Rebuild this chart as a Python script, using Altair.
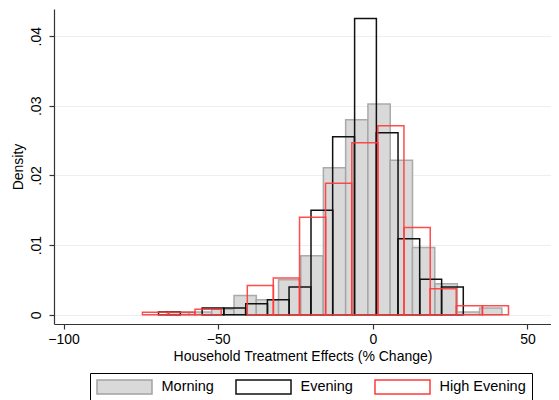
import altair as alt
import pandas as pd

series_names = ["Morning", "Evening", "High Evening"]

# Morning histogram (bin width ~7.22)
morning_left = [-66.6, -59.4, -52.1, -44.9, -37.7, -30.5, -23.3, -16.0, -8.8,
                -1.6, 5.6, 12.8, 20.1, 27.3, 34.5]
morning_width = 7.22
morning_density = [0.0004, 0.0004, 0.0008, 0.00277, 0.00215, 0.00502, 0.00846,
                   0.0211, 0.0280, 0.03025, 0.0222, 0.00965, 0.00444, 0.0004, 0.00096]

# Evening histogram (bin width ~7.04)
evening_left = [-69.3, -55.2, -48.2, -41.1, -34.1, -27.1, -20.0, -13.0, -5.9,
                1.1, 8.1, 15.2, 22.2]
evening_width = 7.04
evening_density = [0.00038, 0.00095, 0.00095, 0.00158, 0.00215, 0.00397, 0.01501,
                   0.02557, 0.04253, 0.02614, 0.0109, 0.00511, 0.00397]

# High Evening histogram (bin width ~8.45)
high_left = [-74.5, -66.0, -57.5, -40.6, -32.2, -23.7, -15.3, -6.8, 1.6, 10.1,
             18.5, 27.0, 35.4]
high_width = 8.45
high_density = [0.00035, 0.00035, 0.0008, 0.0042, 0.00526, 0.014, 0.01888,
                0.02471, 0.02714, 0.01252, 0.00373, 0.00129, 0.00129]

x_ticks = [-100, -50, 0, 50]
y_ticks = [0, 0.01, 0.02, 0.03, 0.04]

rows = []
for name, lefts, w, dens in [
    ("Morning", morning_left, morning_width, morning_density),
    ("Evening", evening_left, evening_width, evening_density),
    ("High Evening", high_left, high_width, high_density),
]:
    for l, d in zip(lefts, dens):
        rows.append({"series": name, "x0": l, "x1": l + w, "density": d})
df = pd.DataFrame(rows)

FONT = "Liberation Sans"

legend = alt.Legend(
    orient="none", legendX=36, legendY=364, direction="horizontal", title=None,
    symbolType="M-3.93,-1H3.93V1H-3.93Z", symbolSize=196, symbolStrokeWidth=1.5,
    symbolOffset=20.5, labelOffset=29, columnPadding=18, padding=6,
    strokeColor="#000", fillColor="white", labelFontSize=14.5, labelFont=FONT,
    labelColor="#000", symbolOpacity=1,
)

fill_scale = alt.Scale(domain=series_names, range=["#d9d9d9", "transparent", "transparent"])
stroke_scale = alt.Scale(domain=series_names, range=["#a3a3a3", "#111111", "#ff3a3a"])

x_enc = alt.X(
    "x0:Q",
    scale=alt.Scale(domain=[-103.1, 57.6], nice=False, zero=False),
    axis=alt.Axis(
        values=x_ticks, format="d", title="Household Treatment Effects (% Change)",
        grid=False, tickSize=5, labelPadding=3, titlePadding=3,
    ),
)
y_enc = alt.Y(
    "density:Q",
    scale=alt.Scale(domain=[-0.00133, 0.0439], nice=False, zero=False),
    axis=alt.Axis(
        values=y_ticks, title="Density", grid=True, tickSize=5,
        labelExpr="datum.value == 0 ? '0' : substring(format(datum.value, '.2f'), 1)",
        labelAngle=270, labelAlign="center", labelBaseline="bottom",
        labelPadding=6, titlePadding=4,
    ),
)

def layer(name, **mark_kw):
    return (
        alt.Chart(df)
        .transform_filter(alt.datum.series == name)
        .mark_bar(strokeWidth=1.5, **mark_kw)
        .encode(
            x=x_enc, x2="x1:Q", y=y_enc, y2=alt.datum(0),
            fill=alt.Fill("series:N", scale=fill_scale, legend=legend),
            stroke=alt.Stroke("series:N", scale=stroke_scale, legend=legend),
        )
    )

chart = (
    alt.layer(
        layer("Morning", strokeOpacity=0.9),
        layer("Evening"),
        layer("High Evening", strokeOpacity=0.9),
    )
    .properties(
        width=497, height=315,
        autosize=alt.AutoSizeParams(type="none"),
        padding={"left": 46, "top": 1, "right": 0, "bottom": 78},
        background="white",
    )
    .configure_view(stroke=None)
    .configure_axis(
        labelFont=FONT, titleFont=FONT, labelFontSize=14, titleFontSize=14,
        titleFontWeight="normal", labelColor="#000", titleColor="#000",
        domainColor="#333", tickColor="#333", domainWidth=1.2, tickWidth=1.2,
        gridColor="#e8f0f1", gridWidth=1,
    )
)

chart.save("out.html", embed_options={"renderer": "svg", "actions": False})
